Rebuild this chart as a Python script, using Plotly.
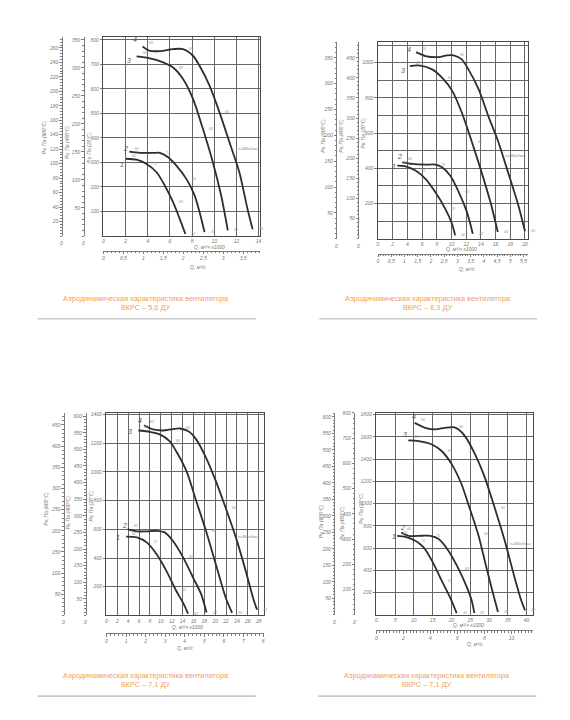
import numpy as np
import plotly.graph_objects as go

W, H = 570, 720

# ---------------- data ----------------
caption_head = "Аэродинамическая характеристика вентилятора"
caption_models = ["ВКРС – 5,6 ДУ", "ВКРС – 6,3 ДУ", "ВКРС – 7,1 ДУ", "ВКРС – 7,1 ДУ"]
speed_label = "n=960об/мин"
curve_names = ["1", "2", "3", "4"]
title_20 = "Pv, Па (20°C)"
title_400 = "Pv, Па (400°C)"
title_600 = "Pv, Па (600°C)"
q_h_title = "Q, м³/ч x1000"
q_s_title = "Q, м³/с"
eff_texts = [["60", "70", "60", "30"], ["60", "70", "60", "30"],
             ["60", "80", "60", "30"], ["60", "80", "60", "30"]]

# Panel 1: ВКРС – 5,6 ДУ  (Q thousand m³/h, Pv Pa at 20°C)
p1_q1 = [2.03, 2.99, 3.89, 4.79, 5.53, 6.28, 6.88, 7.39]
p1_p1 = [315, 311, 294, 260, 206, 138, 70, 9]
p1_q2 = [2.33, 3.29, 4.49, 5.09, 5.83, 6.58, 7.48, 8.23, 8.67, 9.12]
p1_p2 = [344, 339, 339, 339, 321, 287, 233, 165, 98, 16]
p1_q3 = [2.99, 4.19, 5.38, 6.28, 7.18, 8.08, 8.97, 9.87, 10.62, 11.22]
p1_p3 = [732, 724, 708, 687, 640, 559, 437, 301, 165, 23]
p1_q4 = [3.53, 4.19, 5.09, 6.28, 7.18, 8.08, 8.67, 9.57, 10.47, 11.37, 12.26, 13.01, 13.46]
p1_p4 = [773, 755, 754, 762, 762, 735, 694, 613, 504, 382, 260, 108, 27]
p1_xticks = [0, 2, 4, 6, 8, 10, 12, 14]
p1_sticks = [0, 0.5, 1, 1.5, 2, 2.5, 3, 3.5]
p1_y20 = [100, 200, 300, 400, 500, 600, 700, 800]
p1_y400 = [50, 100, 150, 200, 250, 300, 350]
p1_y600 = [20, 40, 60, 80, 100, 120, 140, 160, 180, 200, 220, 240, 260]

# Panel 2: ВКРС – 6,3 ДУ
p2_q1 = [2.62, 3.75, 5.10, 6.46, 7.81, 9.16, 10.07, 10.5]
p2_p1 = [415, 411, 387, 340, 264, 170, 85, 19]
p2_q2 = [3.30, 4.65, 6.46, 7.81, 8.71, 9.84, 11.0, 12.1, 12.9]
p2_p2 = [434, 425, 421, 421, 406, 358, 264, 151, 28]
p2_q3 = [4.33, 5.55, 7.36, 8.71, 10.1, 11.4, 12.8, 14.1, 15.3, 16.3]
p2_p3 = [981, 985, 962, 915, 840, 717, 547, 377, 208, 38]
p2_q4 = [5.19, 6.46, 8.26, 9.39, 10.3, 11.4, 12.3, 13.7, 15.0, 16.4, 17.7, 19.1, 20.0]
p2_p4 = [1060, 1038, 1032, 1042, 1042, 1019, 962, 849, 698, 547, 377, 189, 42]
p2_xticks = [0, 2, 4, 6, 8, 10, 12, 14, 16, 18, 20]
p2_sticks = [0, 0.5, 1, 1.5, 2, 2.5, 3, 3.5, 4, 4.5, 5, 5.5]
p2_y20 = [200, 400, 600, 800, 1000]
p2_y400 = [50, 100, 150, 200, 250, 300, 350, 400, 450]
p2_y600 = [50, 100, 150, 200, 250, 300, 350]

# Panel 3: ВКРС – 7,1 ДУ
p3_q1 = [3.64, 5.58, 7.4, 9.2, 11.0, 12.8, 14.2, 15.0]
p3_p1 = [549, 544, 509, 428, 312, 174, 80, 12]
p3_q2 = [3.88, 5.58, 7.4, 9.2, 10.7, 12.2, 14.1, 15.9, 17.4, 18.4]
p3_p2 = [602, 586, 586, 590, 579, 521, 405, 266, 150, 20]
p3_q3 = [5.88, 8.0, 9.8, 11.6, 12.8, 14.7, 16.5, 18.3, 20.1, 21.9, 23.1]
p3_p3 = [1289, 1280, 1262, 1215, 1146, 1007, 799, 590, 359, 127, 18]
p3_q4 = [6.91, 8.6, 10.4, 12.2, 13.5, 15.0, 16.5, 18.3, 20.1, 21.9, 23.8, 25.6, 27.1, 27.7]
p3_p4 = [1326, 1296, 1289, 1299, 1303, 1285, 1227, 1100, 938, 752, 544, 312, 104, 40]
p3_xticks = [0, 2, 4, 6, 8, 10, 12, 14, 16, 18, 20, 22, 24, 26, 28]
p3_sticks = [0, 1, 2, 3, 4, 5, 6, 7, 8]
p3_y20 = [200, 400, 600, 800, 1000, 1200, 1400]
p3_y400 = [50, 100, 150, 200, 250, 300, 350, 400, 450, 500, 550, 600]
p3_y600 = [50, 100, 150, 200, 250, 300, 350, 400, 450]

# Panel 4: ВКРС – 7,1 ДУ
p4_q1 = [5.55, 7.75, 10.4, 12.6, 14.8, 17.4, 19.6, 21.4]
p4_p1 = [710, 701, 666, 606, 487, 307, 158, 15]
p4_q2 = [6.6, 8.6, 12.2, 14.4, 16.6, 19.2, 21.9, 24.1, 25.4, 26.1]
p4_p2 = [740, 710, 710, 710, 681, 576, 412, 248, 128, 15]
p4_q3 = [8.5, 11.3, 14.8, 17.4, 20.1, 22.7, 24.5, 27.1, 29.3, 31.1, 32.4]
p4_p3 = [1567, 1561, 1531, 1472, 1352, 1173, 994, 725, 427, 188, 25]
p4_q4 = [10.2, 13.0, 15.7, 18.3, 20.5, 21.9, 23.6, 26.3, 28.9, 31.5, 34.2, 36.8, 38.6, 39.6]
p4_p4 = [1725, 1681, 1666, 1681, 1687, 1666, 1606, 1442, 1233, 964, 666, 337, 128, 40]
p4_xticks = [0, 5, 10, 15, 20, 25, 30, 35, 40]
p4_sticks = [0, 2, 4, 6, 8, 10]
p4_y20 = [200, 400, 600, 800, 1000, 1200, 1400, 1600, 1800]
p4_y400 = [100, 200, 300, 400, 500, 600, 700, 800]
p4_y600 = [50, 100, 150, 200, 250, 300, 350, 400, 450, 500, 550, 600]

panels = [
    dict(q=[p1_q1, p1_q2, p1_q3, p1_q4], p=[p1_p1, p1_p2, p1_p3, p1_p4],
         xt=p1_xticks, st=p1_sticks, y20=p1_y20, y400=p1_y400, y600=p1_y600),
    dict(q=[p2_q1, p2_q2, p2_q3, p2_q4], p=[p2_p1, p2_p2, p2_p3, p2_p4],
         xt=p2_xticks, st=p2_sticks, y20=p2_y20, y400=p2_y400, y600=p2_y600),
    dict(q=[p3_q1, p3_q2, p3_q3, p3_q4], p=[p3_p1, p3_p2, p3_p3, p3_p4],
         xt=p3_xticks, st=p3_sticks, y20=p3_y20, y400=p3_y400, y600=p3_y600),
    dict(q=[p4_q1, p4_q2, p4_q3, p4_q4], p=[p4_p1, p4_p2, p4_p3, p4_p4],
         xt=p4_xticks, st=p4_sticks, y20=p4_y20, y400=p4_y400, y600=p4_y600),
]

# ---------------- layout / style (pixels) ----------------
styles = [
    dict(l=103, r=260.1, t=34, b=234, xmax=14.1, ymax=812, k400=0.4375, k600=0.339,
         x400=83, x600=61, sy=249, ygm=None, sm=0.1, m400=10, m600=4,
         t600=(44, 135), t400=(67, 140), t20=(89, 145), qh=(210, 245), qs=(198, 265),
         spd=(249, 147), cap=(146, 301),
         nshift=[(-4, -6), (-4, 3), (-8, -4), (-8, 7)]),
    dict(l=379, r=529.7, t=39.3, b=236.7, xmax=20.4, ymax=1117, k400=0.4377, k600=0.3404,
         x400=359, x600=337, sy=252, ygm=100, sm=0.1, m400=10, m600=10,
         t600=(324, 133), t400=(342, 133), t20=(364, 131), qh=(463, 247), qs=(468, 267),
         spd=(517, 154), cap=(429, 301),
         nshift=[(-3, -1), (-3, 6), (-7, -4), (-7, 3)]),
    dict(l=106, r=264, t=411.7, b=615, xmax=28.9, ymax=1411, k400=0.432, k600=0.339,
         x400=85, x600=63, sy=633, ygm=None, sm=0.2, m400=10, m600=10,
         t600=(45, 508), t400=(67, 512), t20=(90, 505), qh=(187, 627), qs=(185, 648),
         spd=(249, 536), cap=(146, 680),
         nshift=[(-8, -1), (-3, 4), (-8, -1), (-4, 5)]),
    dict(l=377.3, r=535.1, t=411.7, b=614.3, xmax=41.8, ymax=1814, k400=0.441, k600=0.3373,
         x400=355, x600=335, sy=630, ygm=None, sm=0.25, m400=20, m600=10,
         t600=(322, 520), t400=(343, 522), t20=(362, 508), qh=(470, 625), qs=(477, 644),
         spd=(522, 543), cap=(428, 680),
         nshift=[(-3, -1), (1, 5), (-3, 6), (-1, 6)]),
]

GRID = "#666666"
FRAME = "#4a4a4a"
AXC = "#7c7c7c"
TXT = "#777777"
CURVE = "#2e2e2e"
TICKF = dict(family="Liberation Sans", size=5, color=TXT, style="italic")


def fx(px):
    return px / W


def fy(py):
    return 1 - py / H


def akey(letter, n):
    return f"{letter}axis" if n == 1 else f"{letter}axis{n}"


def aref(letter, n):
    return letter if n == 1 else f"{letter}{n}"


def minor_vals(top, step):
    return [float(v) for v in np.round(np.arange(0, top + 1e-9, step), 6)]


fig = go.Figure()
layout = dict(width=W, height=H, margin=dict(l=0, r=0, t=0, b=0),
              paper_bgcolor="white", plot_bgcolor="white", showlegend=False,
              separators=", ")
annotations = []
shapes = []


def ptext(px, py, text, size=5, color=TXT, angle=0, italic=True, family="Liberation Sans"):
    annotations.append(dict(x=fx(px), y=fy(py), xref="paper", yref="paper", text=text,
                            showarrow=False, textangle=angle, xanchor="center", yanchor="middle",
                            font=dict(family=family, size=size, color=color,
                                      style="italic" if italic else "normal")))


for i, (pd_, st) in enumerate(zip(panels, styles)):
    nx, ns = 2 * i + 1, 2 * i + 2
    ny, n4, n6 = 3 * i + 1, 3 * i + 2, 3 * i + 3
    xr, sr = aref("x", nx), aref("x", ns)
    yr, r4, r6 = aref("y", ny), aref("y", n4), aref("y", n6)
    xdom = [fx(st["l"]), fx(st["r"])]
    ydom = [fy(st["b"]), fy(st["t"])]

    layout[akey("x", nx)] = dict(domain=xdom, range=[0, st["xmax"]], anchor=yr,
                                 tickmode="array", tickvals=pd_["xt"], showgrid=True,
                                 gridcolor=GRID, gridwidth=1, showline=True, linecolor=FRAME,
                                 linewidth=1.2, mirror=True, ticks="", tickfont=TICKF,
                                 zeroline=False)
    ymain = dict(domain=ydom, range=[0, st["ymax"]], anchor=xr, tickmode="array",
                 tickvals=pd_["y20"], showgrid=True, gridcolor=GRID, gridwidth=1,
                 showline=True, linecolor=FRAME, linewidth=1.2, mirror=True, ticks="outside",
                 ticklen=2.5, tickcolor=AXC, tickwidth=0.8, tickfont=TICKF, zeroline=False)
    if st["ygm"]:
        ymain["minor"] = dict(tickmode="array", tickvals=minor_vals(st["ymax"], st["ygm"]),
                              showgrid=True, gridcolor=GRID, gridwidth=1, ticks="")
    layout[akey("y", ny)] = ymain

    layout[akey("x", ns)] = dict(overlaying=xr, anchor="free", position=fy(st["sy"]),
                                 side="bottom", range=[0, st["xmax"] / 3.6], tickmode="array",
                                 tickvals=pd_["st"], showgrid=False, showline=True,
                                 linecolor=AXC, linewidth=0.8, ticks="outside", ticklen=2.5,
                                 tickcolor=AXC, tickwidth=0.8, tickfont=TICKF, zeroline=False,
                                 minor=dict(tickmode="array",
                                            tickvals=minor_vals(st["xmax"] / 3.6, st["sm"]),
                                            ticks="outside", ticklen=1.5, tickcolor=AXC,
                                            tickwidth=0.6))
    for nref, nn, key, kk, xp, mstep in [(r4, n4, "y400", "k400", "x400", "m400"),
                                         (r6, n6, "y600", "k600", "x600", "m600")]:
        top = st["ymax"] * st[kk]
        layout[akey("y", nn)] = dict(overlaying=yr, anchor="free", position=fx(st[xp]),
                                     side="left", range=[0, top], tickmode="array",
                                     tickvals=pd_[key], showgrid=False, showline=True,
                                     linecolor=AXC, linewidth=0.8, ticks="outside", ticklen=2.5,
                                     tickcolor=AXC, tickwidth=0.8, tickfont=TICKF,
                                     zeroline=False,
                                     minor=dict(tickmode="array",
                                                tickvals=minor_vals(top, st[mstep]),
                                                ticks="outside", ticklen=1.5, tickcolor=AXC,
                                                tickwidth=0.6))
        ptext(st[xp], st["b"] + 7, "0")
        fig.add_trace(go.Scatter(x=[], y=[], xaxis=xr, yaxis=nref, hoverinfo="skip"))
    fig.add_trace(go.Scatter(x=[], y=[], xaxis=sr, yaxis=yr, hoverinfo="skip"))

    # curves
    for k in range(4):
        q, p = pd_["q"][k], pd_["p"][k]
        fig.add_trace(go.Scatter(x=q, y=p, mode="lines", xaxis=xr, yaxis=yr,
                                 line=dict(color=CURVE, width=1.8, shape="spline",
                                           smoothing=0.8),
                                 hoverinfo="skip"))
        dx, dy = st["nshift"][k]
        annotations.append(dict(x=q[0], y=p[0], xref=xr, yref=yr, text=curve_names[k],
                                showarrow=False, xshift=dx, yshift=dy,
                                font=dict(family="Liberation Sans", size=7, color="#555",
                                          style="italic")))
        n = len(q)
        for j, t in zip([0, n // 3, (2 * n) // 3, n - 1], eff_texts[k]):
            annotations.append(dict(x=q[j], y=p[j], xref=xr, yref=yr, text=t,
                                    showarrow=False, xshift=8, yshift=3 if j == 0 else 0,
                                    font=dict(family="Liberation Sans", size=3.5,
                                              color="#999", style="italic")))

    # axis titles and labels
    ptext(*st["t600"], title_600, angle=-90)
    ptext(*st["t400"], title_400, angle=-90)
    ptext(*st["t20"], title_20, angle=-90)
    ptext(*st["qh"], q_h_title)
    ptext(*st["qs"], q_s_title)
    ptext(*st["spd"], speed_label, size=3.5, color="#888")

    # caption
    cx, cy = st["cap"]
    ptext(cx, cy, caption_head + "<br>" + caption_models[i], size=7.3, color="#f0a060",
          italic=False)
    shapes.append(dict(type="line", xref="paper", yref="paper",
                       x0=fx(cx - 109), x1=fx(cx + 110), y0=fy(cy + 16), y1=fy(cy + 16),
                       line=dict(color="#c8c8c8", width=1.6)))

layout["annotations"] = annotations
layout["shapes"] = shapes
fig.update_layout(**layout)
fig.write_html("out.html")
